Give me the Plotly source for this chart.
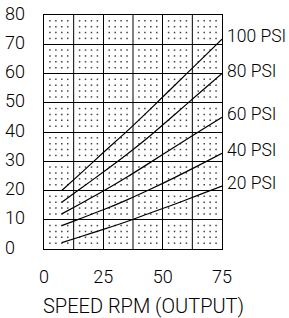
import numpy as np
import plotly.graph_objects as go

# ---- data ----
speed_rpm = [7.5, 15, 25, 35, 45, 55, 65, 75]
psi_100 = [20.0, 25.5, 33.0, 40.3, 48.0, 55.9, 63.8, 71.7]
psi_80 = [16.0, 20.4, 26.3, 32.4, 38.9, 45.9, 53.0, 60.0]
psi_60 = [12.0, 15.3, 19.8, 24.6, 29.7, 34.9, 40.0, 45.0]
psi_40 = [8.0, 10.3, 13.4, 16.8, 20.5, 24.4, 28.5, 32.7]
psi_20 = [2.2, 4.1, 6.7, 9.4, 12.4, 15.3, 18.4, 21.5]
series_labels = ["100 PSI", "80 PSI", "60 PSI", "40 PSI", "20 PSI"]
series_values = [psi_100, psi_80, psi_60, psi_40, psi_20]
x_ticks = [0, 25, 50, 75]
y_ticks = [0, 10, 20, 30, 40, 50, 60, 70, 80]
x_title = "SPEED RPM (OUTPUT)"

X_MAJOR, Y_MAJOR = 12.5, 10
X_MINOR, Y_MINOR = X_MAJOR / 5, Y_MAJOR / 5

FONT = "Roboto, DejaVu Sans"
WEIGHT = 300
INK = "black"

fig = go.Figure()

# background dot pattern at the minor subdivisions of the grid
mx = [v for v in np.arange(0, 75 + 1e-9, X_MINOR) if abs(v / X_MAJOR - round(v / X_MAJOR)) > 1e-6]
my = [v for v in np.arange(0, 80 + 1e-9, Y_MINOR) if abs(v / Y_MAJOR - round(v / Y_MAJOR)) > 1e-6]
gx, gy = np.meshgrid(mx, my)
fig.add_trace(go.Scatter(
    x=gx.ravel(), y=gy.ravel(), mode="markers",
    marker=dict(symbol="square", size=1.5, color="#444444", line=dict(width=0)),
    hoverinfo="skip", showlegend=False,
))

for name, vals in zip(series_labels, series_values):
    fig.add_trace(go.Scatter(
        x=speed_rpm, y=vals, mode="lines", name=name,
        line=dict(color=INK, width=1.2, shape="spline", smoothing=0.6),
        showlegend=False,
    ))
    fig.add_annotation(
        x=speed_rpm[-1], y=vals[-1], text=name, showarrow=False,
        xanchor="left", yanchor="middle", xshift=3, yshift=3,
        font=dict(family=FONT, size=17.5, color=INK, weight=WEIGHT),
    )

# y tick labels, left aligned near the figure's left edge
for v in y_ticks:
    fig.add_annotation(
        xref="paper", x=0, xshift=-41, y=v, yref="y", yshift=2,
        text=str(v), showarrow=False, xanchor="left", yanchor="middle",
        font=dict(family=FONT, size=18, color=INK, weight=WEIGHT),
    )

# x-axis title
fig.add_annotation(
    xref="paper", yref="paper", x=0.5, y=0, xshift=10, yshift=-57,
    text=x_title, showarrow=False, xanchor="center", yanchor="middle",
    font=dict(family=FONT, size=20, color=INK, weight=WEIGHT),
)

W, H = 289, 318
fig.update_layout(
    template="none",
    width=W, height=H,
    margin=dict(l=44, r=67, t=15, b=69, autoexpand=False),
    paper_bgcolor="white", plot_bgcolor="white",
    font=dict(family=FONT, color=INK, weight=WEIGHT),
    xaxis=dict(
        range=[0, 75],
        tickmode="array", tickvals=x_ticks, ticktext=[str(v) for v in x_ticks],
        showgrid=True, gridcolor=INK, gridwidth=1,
        showline=True, linecolor=INK, linewidth=1, mirror=True,
        ticks="", ticklabelstandoff=11, zeroline=False,
        tickfont=dict(family=FONT, size=18, color=INK, weight=WEIGHT),
    ),
    yaxis=dict(
        range=[0, 80], dtick=Y_MAJOR, showticklabels=False,
        showgrid=True, gridcolor=INK, gridwidth=1,
        showline=True, linecolor=INK, linewidth=1, mirror=True,
        ticks="", zeroline=False,
    ),
)

for v in np.arange(X_MAJOR, 75, X_MAJOR):
    if v not in x_ticks:
        fig.add_vline(x=v, line=dict(color=INK, width=1), layer="below")

fig.write_html("out.html", config={"displayModeBar": False},
               post_script="document.body.style.margin='0';")
